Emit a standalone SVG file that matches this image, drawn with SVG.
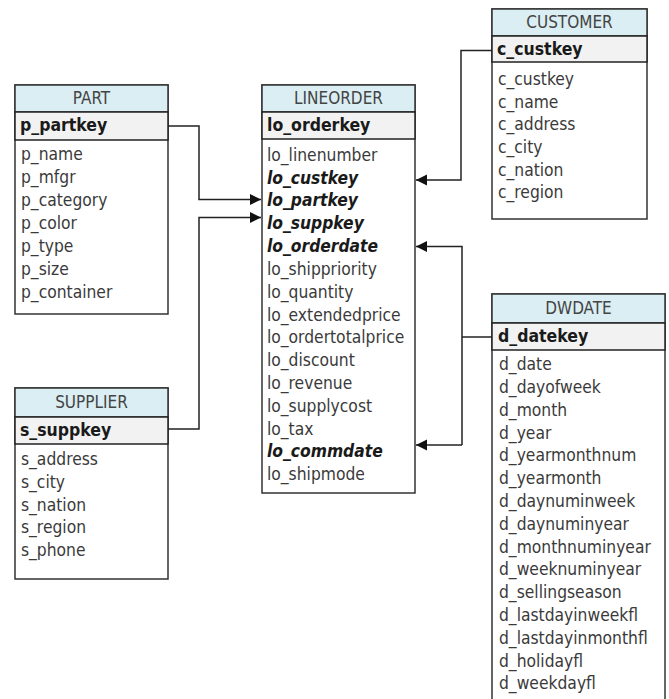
<svg xmlns="http://www.w3.org/2000/svg" width="669" height="699" viewBox="0 0 669 699">
<defs>
<style>
.box{fill:#fff;stroke:#333;stroke-width:1.5}
.hdr{fill:#daeef3;stroke:#333;stroke-width:1.5}
.key{fill:#f2f2f2;stroke:#222;stroke-width:1.5}
text{font-family:"DejaVu Sans Condensed","DejaVu Sans",sans-serif;font-stretch:condensed}
.title{font-size:17px;fill:#444;text-anchor:middle}
.k{font-size:17.5px;font-weight:bold;fill:#1a1a1a}
.f{font-size:17.3px;fill:#3a3a3a}
.fk{font-size:17.3px;font-weight:bold;font-style:italic;fill:#1a1a1a}
.conn{fill:none;stroke:#222;stroke-width:1.5}
</style>
<marker id="arr" markerUnits="userSpaceOnUse" markerWidth="12" markerHeight="12" refX="11" refY="6" orient="auto">
<path d="M0,0.5 L11,6 L0,11.5 z" fill="#111"/>
</marker>
</defs>
<rect width="669" height="699" fill="#fff"/>

<g id="part">
<rect class="box" x="15" y="85" width="153" height="229"/>
<rect class="hdr" x="15" y="85" width="153" height="27"/>
<rect class="key" x="15" y="112" width="153" height="28"/>
<text class="title" x="91.5" y="104">PART</text>
<text class="k" x="20" y="131">p_partkey</text>
<text class="f" x="21" y="160">p_name</text>
<text class="f" x="21" y="183">p_mfgr</text>
<text class="f" x="21" y="206">p_category</text>
<text class="f" x="21" y="229">p_color</text>
<text class="f" x="21" y="252">p_type</text>
<text class="f" x="21" y="275">p_size</text>
<text class="f" x="21" y="298">p_container</text>
</g>

<g id="supplier">
<rect class="box" x="15" y="388" width="153" height="191"/>
<rect class="hdr" x="15" y="388" width="153" height="29"/>
<rect class="key" x="15" y="417" width="153" height="27"/>
<text class="title" x="91.5" y="408">SUPPLIER</text>
<text class="k" x="20" y="436">s_suppkey</text>
<text class="f" x="21" y="465">s_address</text>
<text class="f" x="21" y="488">s_city</text>
<text class="f" x="21" y="511">s_nation</text>
<text class="f" x="21" y="533">s_region</text>
<text class="f" x="21" y="556">s_phone</text>
</g>

<g id="lineorder">
<rect class="box" x="262" y="85" width="153" height="408"/>
<rect class="hdr" x="262" y="85" width="153" height="27"/>
<rect class="key" x="262" y="112" width="153" height="27"/>
<text class="title" x="338.5" y="104">LINEORDER</text>
<text class="k" x="267" y="131">lo_orderkey</text>
<text class="f" x="267" y="161">lo_linenumber</text>
<text class="fk" x="267" y="184">lo_custkey</text>
<text class="fk" x="267" y="206">lo_partkey</text>
<text class="fk" x="267" y="229">lo_suppkey</text>
<text class="fk" x="267" y="252">lo_orderdate</text>
<text class="f" x="267" y="275">lo_shippriority</text>
<text class="f" x="267" y="298">lo_quantity</text>
<text class="f" x="267" y="321">lo_extendedprice</text>
<text class="f" x="267" y="343">lo_ordertotalprice</text>
<text class="f" x="267" y="366">lo_discount</text>
<text class="f" x="267" y="389">lo_revenue</text>
<text class="f" x="267" y="412">lo_supplycost</text>
<text class="f" x="267" y="435">lo_tax</text>
<text class="fk" x="267" y="457">lo_commdate</text>
<text class="f" x="267" y="480">lo_shipmode</text>
</g>

<g id="customer">
<rect class="box" x="492" y="9" width="155" height="210"/>
<rect class="hdr" x="492" y="9" width="155" height="27"/>
<rect class="key" x="492" y="36" width="155" height="26"/>
<text class="title" x="569.5" y="28">CUSTOMER</text>
<text class="k" x="497" y="55">c_custkey</text>
<text class="f" x="498" y="85">c_custkey</text>
<text class="f" x="498" y="107.5">c_name</text>
<text class="f" x="498" y="130">c_address</text>
<text class="f" x="498" y="153">c_city</text>
<text class="f" x="498" y="175.5">c_nation</text>
<text class="f" x="498" y="198">c_region</text>
</g>

<g id="dwdate">
<rect class="box" x="492" y="294" width="173" height="420"/>
<rect class="hdr" x="492" y="294" width="173" height="29"/>
<rect class="key" x="492" y="323" width="173" height="27"/>
<text class="title" x="578.5" y="314">DWDATE</text>
<text class="k" x="498" y="342">d_datekey</text>
<text class="f" x="499" y="370">d_date</text>
<text class="f" x="499" y="393">d_dayofweek</text>
<text class="f" x="499" y="415.5">d_month</text>
<text class="f" x="499" y="438.5">d_year</text>
<text class="f" x="499" y="461">d_yearmonthnum</text>
<text class="f" x="499" y="484">d_yearmonth</text>
<text class="f" x="499" y="507">d_daynuminweek</text>
<text class="f" x="499" y="529.5">d_daynuminyear</text>
<text class="f" x="499" y="552.5">d_monthnuminyear</text>
<text class="f" x="499" y="575">d_weeknuminyear</text>
<text class="f" x="499" y="598">d_sellingseason</text>
<text class="f" x="499" y="621">d_lastdayinweekfl</text>
<text class="f" x="499" y="643.5">d_lastdayinmonthfl</text>
<text class="f" x="499" y="666.5">d_holidayfl</text>
<text class="f" x="499" y="689">d_weekdayfl</text>
</g>

<g id="connectors">
<path class="conn" d="M168,126 H199 V199.5 H261" marker-end="url(#arr)"/>
<path class="conn" d="M168,429 H199 V217.5 H261" marker-end="url(#arr)"/>
<path class="conn" d="M492,50.5 H461 V180 H416" marker-end="url(#arr)"/>
<path class="conn" d="M492,337 H462"/>
<path class="conn" d="M462,445 V246.5 H416" marker-end="url(#arr)"/>
<path class="conn" d="M462,445 H416" marker-end="url(#arr)"/>
</g>
</svg>
